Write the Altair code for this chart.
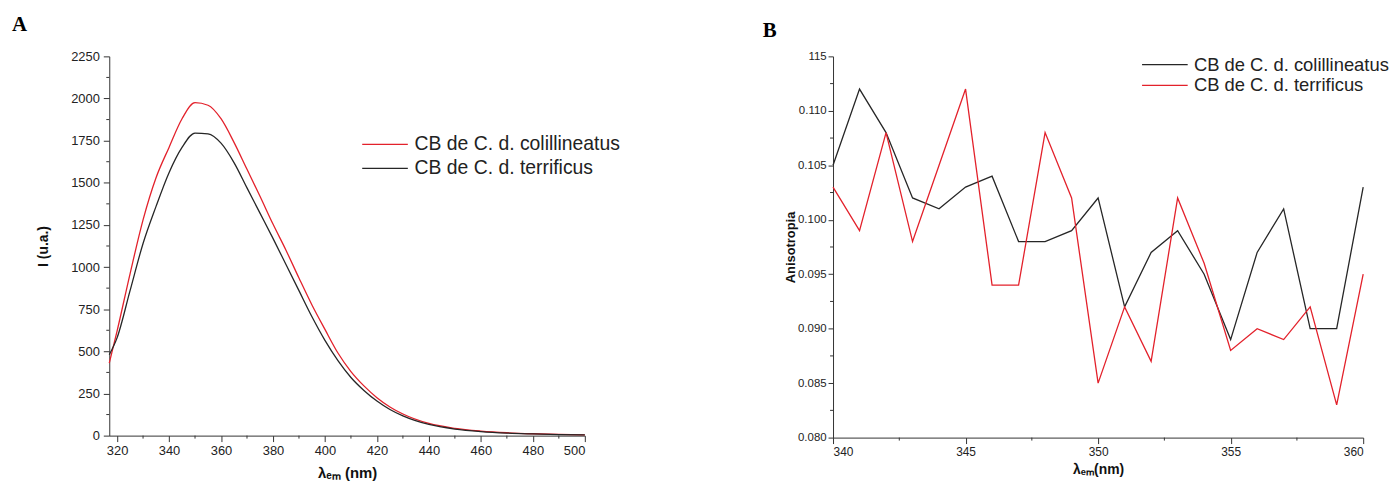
import altair as alt
import pandas as pd

# ---------------- Panel A: emission spectra ----------------
lab_coli = "CB de C. d. colillineatus"
lab_terr = "CB de C. d. terrificus"

wl_a = [317, 320, 325, 330, 335, 340, 345, 350, 355, 360, 365, 370, 375, 380,
        385, 390, 395, 400, 405, 410, 415, 420, 425, 430, 440, 450, 460, 470,
        480, 490, 500]
int_coli = [430, 620, 960, 1280, 1530, 1710, 1880, 1975, 1960, 1880, 1740, 1580,
            1420, 1255, 1100, 935, 775, 630, 490, 380, 295, 225, 170, 128, 72,
            43, 27, 17, 11, 7, 5]
int_terr = [480, 580, 860, 1140, 1360, 1560, 1710, 1795, 1790, 1735, 1620, 1470,
            1320, 1170, 1015, 860, 705, 565, 445, 345, 268, 205, 155, 117, 66,
            39, 24, 15, 10, 6, 4]

# ---------------- Panel B: anisotropy ----------------
wl_b = list(range(340, 361))
aniso_coli = [0.105, 0.112, 0.108, 0.102, 0.101, 0.103, 0.104, 0.098, 0.098,
              0.099, 0.102, 0.092, 0.097, 0.099, 0.095, 0.089, 0.097, 0.101,
              0.090, 0.090, 0.103]
aniso_terr = [0.103, 0.099, 0.108, 0.098, 0.105, 0.112, 0.094, 0.094, 0.108,
              0.102, 0.085, 0.092, 0.087, 0.102, 0.096, 0.088, 0.090, 0.089,
              0.092, 0.083, 0.095]

xa_major = list(range(320, 501, 20))
xa_minor = list(range(330, 500, 20))
ya_major = list(range(0, 2251, 250))
ya_minor = [125 + 250 * i for i in range(9)]

xb_major = [340, 345, 350, 355, 360]
xb_minor = [342.5, 347.5, 352.5, 357.5]
yb_major = [round(0.080 + 0.005 * i, 3) for i in range(8)]
yb_minor = [round(0.0825 + 0.005 * i, 4) for i in range(7)]

RED = "#e3212b"
BLK = "#262626"
AX = "#333333"
FONT = "Liberation Sans"

df_a = pd.DataFrame({
    "wl": wl_a * 2,
    "val": int_coli + int_terr,
    "serie": [lab_coli] * len(wl_a) + [lab_terr] * len(wl_a),
})
df_b = pd.DataFrame({
    "wl": wl_b * 2,
    "val": aniso_coli + aniso_terr,
    "serie": [lab_coli] * len(wl_b) + [lab_terr] * len(wl_b),
})

WA, HA = 479, 382
WB, HB = 534, 384


def axis(values, title, lfs, tfs, **kw):
    return alt.Axis(values=values, title=title, grid=False, domainColor=AX,
                    tickColor=AX, labelColor="#222", labelFont=FONT,
                    labelFontSize=lfs, titleFont=FONT, titleFontSize=tfs,
                    titleFontWeight="bold", titleColor="#111", **kw)


def legend(x, y, rowpad, fs):
    return alt.Legend(orient="none", legendX=x, legendY=y, title=None,
                      symbolType="M-4,0H4", symbolSize=132, symbolStrokeWidth=1.3,
                      labelFont=FONT, labelFontSize=fs, labelColor="#222",
                      labelLimit=0, rowPadding=rowpad, labelOffset=20)


sx_a = alt.Scale(domain=[317, 500], nice=False, zero=False)
sy_a = alt.Scale(domain=[0, 2250], nice=False)
xa = alt.X("wl:Q", scale=sx_a,
           axis=axis(xa_major, "λₑₘ (nm)", 13, 15, tickSize=6, labelPadding=3,
                     titlePadding=8))
ya = alt.Y("val:Q", scale=sy_a,
           axis=axis(ya_major, "I (u.a.)", 13, 14, format="d", tickSize=6,
                     labelPadding=4, titlePadding=20))

lines_a = alt.Chart(df_a).mark_line(strokeWidth=1.3, interpolate="monotone").encode(
    x=xa, y=ya,
    color=alt.Color("serie:N", sort=[lab_coli, lab_terr],
                    scale=alt.Scale(domain=[lab_coli, lab_terr], range=[RED, BLK]),
                    legend=legend(268, 79, 3, 19.5)),
)
minx_a = alt.Chart(pd.DataFrame({"v": xa_minor})).mark_rule(color=AX).encode(
    x=alt.X("v:Q", scale=sx_a), y=alt.value(HA), y2=alt.value(HA + 3))
miny_a = alt.Chart(pd.DataFrame({"v": ya_minor})).mark_rule(color=AX).encode(
    y=alt.Y("v:Q", scale=sy_a), x=alt.value(0), x2=alt.value(-3))

chart_a = alt.layer(lines_a, minx_a, miny_a).properties(
    width=WA, height=HA,
    title=alt.TitleParams("A", anchor="start", font="Liberation Serif",
                          fontSize=21, fontWeight="bold", color="#000", dx=-25,
                          offset=16),
)

sx_b = alt.Scale(domain=[340, 360], nice=False, zero=False)
sy_b = alt.Scale(domain=[0.080, 0.115], nice=False, zero=False)
xb = alt.X("wl:Q", scale=sx_b,
           axis=axis(xb_major, "λₑₘ(nm)", 12, 14, tickSize=6, labelPadding=3,
                     titlePadding=5))
yb = alt.Y("val:Q", scale=sy_b,
           axis=axis(yb_major, "Anisotropia", 11.5, 13, tickSize=5, labelPadding=2,
                     titlePadding=0,
                     labelExpr="datum.value > 0.1149 ? '115' : format(datum.value, '.3f')"))

lines_b = alt.Chart(df_b).mark_line(strokeWidth=1.3).encode(
    x=xb, y=yb,
    color=alt.Color("serie:N", sort=[lab_coli, lab_terr],
                    scale=alt.Scale(domain=[lab_coli, lab_terr], range=[BLK, RED]),
                    legend=legend(325, -1, 2, 18.5)),
)
minx_b = alt.Chart(pd.DataFrame({"v": xb_minor})).mark_rule(color=AX).encode(
    x=alt.X("v:Q", scale=sx_b), y=alt.value(HB), y2=alt.value(HB + 3))
miny_b = alt.Chart(pd.DataFrame({"v": yb_minor})).mark_rule(color=AX).encode(
    y=alt.Y("v:Q", scale=sy_b), x=alt.value(0), x2=alt.value(-3))

chart_b = alt.layer(lines_b, minx_b, miny_b).properties(
    width=WB, height=HB,
    title=alt.TitleParams("B", anchor="start", font="Liberation Serif",
                          fontSize=21, fontWeight="bold", color="#000", dx=-22,
                          offset=10),
)

chart = alt.hconcat(chart_a, chart_b, spacing=143).resolve_scale(
    color="independent", x="independent", y="independent"
).properties(
    padding={"left": 4, "top": 4, "right": 0, "bottom": 0}
).configure(background="white").configure_view(strokeWidth=0).configure_axis(grid=False)

chart.save("out.html", embed_options={"renderer": "svg", "actions": False})
